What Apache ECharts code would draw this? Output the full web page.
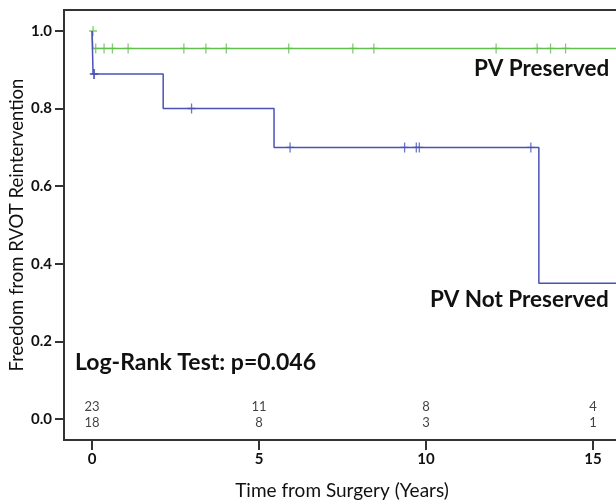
<!DOCTYPE html>
<html>
<head>
<meta charset="utf-8">
<script src="https://cdn.jsdelivr.net/npm/echarts@6/dist/echarts.min.js"></script>
<style>
  html, body { margin: 0; padding: 0; background: #fff; }
  #main { width: 616px; height: 502px; }
</style>
</head>
<body>
<div id="main"></div>
<script>
// Kaplan-Meier steps (time in years, survival)
var preservedTimes = [0, 0.02, 16];
var preservedSurv = [1, 0.955, 0.955];
var notPreservedTimes = [0, 0.03, 2.13, 5.45, 13.38, 16];
var notPreservedSurv = [1, 0.889, 0.8, 0.7, 0.35, 0.35];

// censored observations
var preservedCensorT = [0.03, 0.11, 0.36, 0.61, 1.08, 2.75, 3.41, 4.02, 5.89, 7.81, 8.44, 12.10, 13.33, 13.73, 14.18];
var preservedCensorS = [1, 0.955, 0.955, 0.955, 0.955, 0.955, 0.955, 0.955, 0.955, 0.955, 0.955, 0.955, 0.955, 0.955, 0.955];
var notPreservedCensorT = [0.05, 0.07, 2.98, 5.93, 9.36, 9.71, 9.80, 13.14];
var notPreservedCensorS = [0.889, 0.889, 0.8, 0.7, 0.7, 0.7, 0.7, 0.7];

// numbers at risk
var riskTimes = [0, 5, 10, 15];
var riskPreserved = [23, 11, 8, 4];
var riskNotPreserved = [18, 8, 3, 1];

var xTicks = [0, 5, 10, 15];
var yTicks = [0, 0.2, 0.4, 0.6, 0.8, 1.0];

var greenColor = '#62bf4f';
var blueColor = '#4a52b6';
var fontFam = 'Lato, "Noto Sans", sans-serif';
var crossSymbol = 'path://M-0.16,-1 L0.16,-1 L0.16,1 L-0.16,1 Z M-1,-0.14 L1,-0.14 L1,0.14 L-1,0.14 Z';

function zip(a, b) {
    var out = [];
    for (var i = 0; i < a.length; i++) {
        out.push([a[i], b[i]]);
    }
    return out;
}

var myChart = echarts.init(document.getElementById('main'));
var option = {
    animation: false,
    backgroundColor: '#fff',
    textStyle: { fontFamily: fontFam },
    grid: {
        left: 64, top: 10, right: -4, bottom: 62,
        outerBoundsMode: 'none',
        containLabel: false,
        show: true, borderColor: '#333', borderWidth: 2
    },
    xAxis: {
        type: 'value',
        min: -0.84,
        max: 15.81,
        splitLine: { show: false },
        axisLine: { show: true, onZero: false, lineStyle: { color: '#333', width: 2 } },
        axisTick: { show: true, customValues: xTicks, length: 10, lineStyle: { color: '#333', width: 2 } },
        axisLabel: {
            customValues: xTicks, margin: 12,
            fontSize: 15, fontWeight: 'bold', color: '#111', fontFamily: fontFam
        },
        name: 'Time from Surgery (Years)',
        nameLocation: 'middle',
        nameMoveOverlap: false,
        nameGap: 41,
        nameTextStyle: { fontSize: 19, color: '#111', fontFamily: fontFam }
    },
    yAxis: {
        type: 'value',
        min: -0.054,
        max: 1.054,
        splitLine: { show: false },
        axisLine: { show: true, onZero: false, lineStyle: { color: '#333', width: 2 } },
        axisTick: { show: true, customValues: yTicks, length: 9, lineStyle: { color: '#333', width: 2 } },
        axisLabel: {
            customValues: yTicks, margin: 12,
            fontSize: 15, fontWeight: 'bold', color: '#111', fontFamily: fontFam,
            formatter: function(v) { return v.toFixed(1); }
        },
        name: 'Freedom from RVOT Reintervention',
        nameLocation: 'middle',
        nameMoveOverlap: false,
        nameGap: 37,
        nameTextStyle: { fontSize: 18.5, color: '#111', fontFamily: fontFam }
    },
    series: [{
        name: 'PV Preserved',
        type: 'line',
        step: 'end',
        data: zip(preservedTimes, preservedSurv),
        symbol: 'none',
        lineStyle: { color: greenColor, width: 1.5 },
        clip: true
    }, {
        name: 'PV Not Preserved',
        type: 'line',
        step: 'end',
        data: zip(notPreservedTimes, notPreservedSurv),
        symbol: 'none',
        lineStyle: { color: blueColor, width: 1.5 },
        clip: true
    }, {
        name: 'Preserved censored',
        type: 'scatter',
        data: zip(preservedCensorT, preservedCensorS),
        symbol: crossSymbol,
        symbolSize: [8, 10],
        itemStyle: { color: greenColor }
    }, {
        name: 'Not preserved censored',
        type: 'scatter',
        data: zip(notPreservedCensorT, notPreservedCensorS),
        symbol: crossSymbol,
        symbolSize: [8, 10],
        itemStyle: { color: blueColor }
    }, {
        name: 'At risk preserved',
        type: 'scatter',
        data: riskTimes.map(function(t, i) { return { value: [t, 0.031], label: { formatter: String(riskPreserved[i]) } }; }),
        symbolSize: 0,
        label: { show: true, position: 'inside', fontSize: 13, color: '#111', fontFamily: fontFam }
    }, {
        name: 'At risk not preserved',
        type: 'scatter',
        data: riskTimes.map(function(t, i) { return { value: [t, -0.01], label: { formatter: String(riskNotPreserved[i]) } }; }),
        symbolSize: 0,
        label: { show: true, position: 'inside', fontSize: 13, color: '#111', fontFamily: fontFam }
    }],
    graphic: [{
        type: 'text', left: 474, top: 57,
        style: { text: 'PV Preserved', font: 'bold 22.5px ' + fontFam, fill: '#111' }
    }, {
        type: 'text', left: 430, top: 288,
        style: { text: 'PV Not Preserved', font: 'bold 22.5px ' + fontFam, fill: '#111' }
    }, {
        type: 'text', left: 75, top: 351,
        style: { text: 'Log-Rank Test: p=0.046', font: 'bold 23px ' + fontFam, fill: '#111' }
    }]
};
myChart.setOption(option);
</script>
</body>
</html>
